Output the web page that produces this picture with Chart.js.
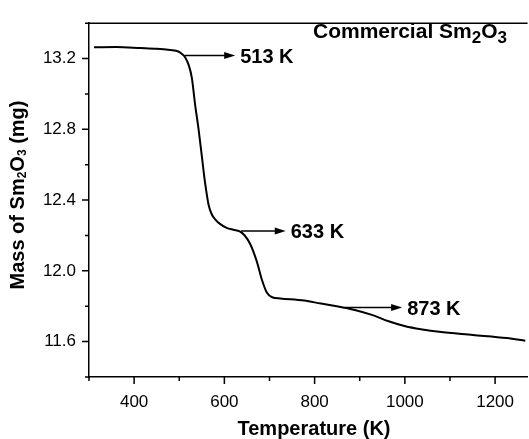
<!DOCTYPE html>
<html>
<head>
<meta charset="utf-8">
<script src="https://cdn.jsdelivr.net/npm/chart.js@4.4.1/dist/chart.umd.min.js"></script>
<style>
  html, body { margin: 0; padding: 0; background: #fff; }
</style>
</head>
<body>
<canvas id="tgaChart" width="529" height="439"></canvas>
<script>
// TGA curve of commercial Sm2O3
const temperature = [311, 360, 414, 450, 480, 498, 506, 513, 521, 528, 535, 543, 550, 557, 565, 572, 580, 591, 605, 620, 634,
    645, 657, 672, 683, 694, 706, 724, 777, 814, 852, 889, 927, 964, 1001, 1039, 1076, 1151, 1226, 1267];
const mass = [13.264, 13.265, 13.26, 13.256, 13.248, 13.24, 13.226, 13.208, 13.163, 13.09, 12.943, 12.797, 12.65, 12.503, 12.374, 12.32, 12.29, 12.264, 12.243, 12.232, 12.223,
    12.2, 12.153, 12.052, 11.951, 11.878, 11.851, 11.844, 11.832, 11.815, 11.799, 11.779, 11.751, 11.715, 11.687, 11.669, 11.656, 11.638, 11.62, 11.605];

const xTicks = [400, 600, 800, 1000, 1200];
const xMinorTicks = [300, 500, 700, 900, 1100];
const yTicks = [11.6, 12.0, 12.4, 12.8, 13.2];
const yMinorTicks = [11.4, 11.8, 12.2, 12.6, 13.0, 13.4];

// onset arrows: start temperature, arrow tip, mass level, label
const onsetFrom = [512, 637, 867];
const onsetTo = [624, 736, 994];
const onsetMass = [13.218, 12.226, 11.793];
const onsetLabels = ['513 K', '633 K', '873 K'];

const FONT = '"Liberation Sans", Arial, sans-serif';

function richWidth(ctx, parts) {
    let w = 0;
    parts.forEach(p => {
        ctx.font = 'bold ' + p.size + 'px ' + FONT;
        w += ctx.measureText(p.t).width;
    });
    return w;
}

function drawRich(ctx, parts, x, y) {
    let cx = x;
    parts.forEach(p => {
        ctx.font = 'bold ' + p.size + 'px ' + FONT;
        ctx.fillText(p.t, cx, y + (p.dy || 0));
        cx += ctx.measureText(p.t).width;
    });
}

const decorations = {
    id: 'decorations',
    afterDraw(chart) {
        const ctx = chart.ctx;
        const a = chart.chartArea;
        const x = chart.scales.x;
        const y = chart.scales.y;
        ctx.save();
        ctx.strokeStyle = '#000';
        ctx.fillStyle = '#000';
        ctx.lineWidth = 1.5;

        // top frame line and tick marks
        ctx.beginPath();
        ctx.moveTo(a.left, a.top);
        ctx.lineTo(a.right, a.top);
        xTicks.forEach(v => {
            const px = x.getPixelForValue(v);
            ctx.moveTo(px, a.bottom);
            ctx.lineTo(px, a.bottom + 7);
        });
        xMinorTicks.forEach(v => {
            const px = x.getPixelForValue(v);
            ctx.moveTo(px, a.bottom);
            ctx.lineTo(px, a.bottom + 4);
        });
        yTicks.forEach(v => {
            const py = y.getPixelForValue(v);
            ctx.moveTo(a.left, py);
            ctx.lineTo(a.left - 7, py);
        });
        yMinorTicks.forEach(v => {
            const py = y.getPixelForValue(v);
            ctx.moveTo(a.left, py);
            ctx.lineTo(a.left - 4, py);
        });
        ctx.stroke();

        // onset arrows
        ctx.textBaseline = 'middle';
        ctx.textAlign = 'left';
        onsetLabels.forEach((lab, i) => {
            const x0 = x.getPixelForValue(onsetFrom[i]);
            const x1 = x.getPixelForValue(onsetTo[i]);
            const py = y.getPixelForValue(onsetMass[i]);
            ctx.beginPath();
            ctx.moveTo(x0, py);
            ctx.lineTo(x1 - 8, py);
            ctx.stroke();
            ctx.beginPath();
            ctx.moveTo(x1, py);
            ctx.lineTo(x1 - 11, py - 3.5);
            ctx.lineTo(x1 - 11, py + 3.5);
            ctx.closePath();
            ctx.fill();
            ctx.font = 'bold 20px ' + FONT;
            ctx.fillText(lab, x1 + 5, py + 2);
        });

        // sample name
        ctx.textBaseline = 'alphabetic';
        drawRich(ctx, [
            {t: 'Commercial Sm', size: 21},
            {t: '2', size: 17, dy: 5},
            {t: 'O', size: 21},
            {t: '3', size: 17, dy: 5}
        ], 313, 38);

        // x axis title
        ctx.font = 'bold 20px ' + FONT;
        ctx.textAlign = 'center';
        ctx.textBaseline = 'middle';
        ctx.fillText('Temperature (K)', 314, 429);

        // y axis title with subscripts
        const yTitle = [
            {t: 'Mass of Sm', size: 20},
            {t: '2', size: 12, dy: 5},
            {t: 'O', size: 20},
            {t: '3', size: 12, dy: 5},
            {t: ' (mg)', size: 20}
        ];
        ctx.translate(18, 195);
        ctx.rotate(-Math.PI / 2);
        ctx.textAlign = 'left';
        const w = richWidth(ctx, yTitle);
        drawRich(ctx, yTitle, -w / 2, 0);
        ctx.restore();
    }
};

new Chart(document.getElementById('tgaChart'), {
    type: 'line',
    data: {
        datasets: [{
            data: temperature.map((t, i) => ({x: t, y: mass[i]})),
            borderColor: '#000',
            borderWidth: 2,
            pointRadius: 0,
            cubicInterpolationMode: 'monotone',
            fill: false
        }]
    },
    options: {
        responsive: false,
        animation: false,
        devicePixelRatio: 1,
        layout: {padding: {top: 14, right: 0, left: 0, bottom: 0}},
        plugins: {
            legend: {display: false},
            tooltip: {enabled: false}
        },
        scales: {
            x: {
                type: 'linear',
                min: 300,
                max: 1272,
                afterBuildTicks: s => { s.ticks = xTicks.map(v => ({value: v})); },
                afterFit: s => { s.height = 62; },
                ticks: {
                    color: '#000',
                    padding: 15,
                    font: {family: FONT, size: 17},
                    callback: v => String(v)
                },
                grid: {display: false, drawTicks: false},
                border: {display: true, color: '#000', width: 1.5}
            },
            y: {
                min: 11.4,
                max: 13.4,
                afterBuildTicks: s => { s.ticks = yTicks.map(v => ({value: v})); },
                afterFit: s => { s.width = 89; },
                ticks: {
                    color: '#000',
                    padding: 13,
                    font: {family: FONT, size: 17},
                    callback: v => v.toFixed(1)
                },
                grid: {display: false, drawTicks: false},
                border: {display: true, color: '#000', width: 1.5}
            }
        }
    },
    plugins: [decorations]
});
</script>
</body>
</html>
